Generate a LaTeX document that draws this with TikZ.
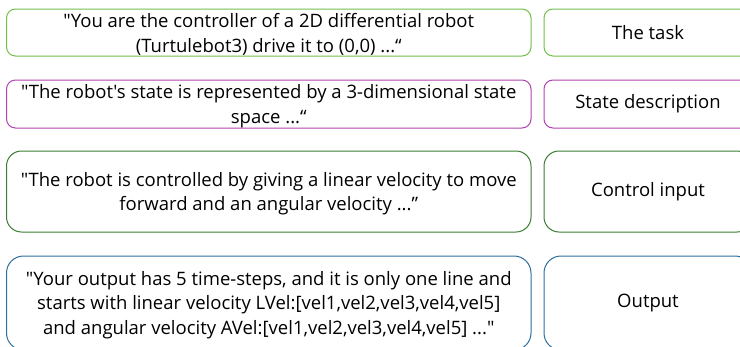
\documentclass[tikz,border=0pt]{standalone}
\usepackage{fontspec}
\newfontfamily\apf{Open Sans}
\definecolor{cA}{HTML}{72BF4C}
\definecolor{cB}{HTML}{B043AE}
\definecolor{cC}{HTML}{3B7D33}
\definecolor{cD}{HTML}{2E6E9C}
\tikzset{
  txt/.style={align=center, inner sep=0pt, font=\apf\fontsize{18.5}{24.5}\selectfont, text=black},
  box/.style={draw=#1, line width=1pt, rectangle, txt},
  lbox/.style={box=#1, minimum width=524.5pt},
  rbox/.style={box=#1, minimum width=208pt},
  ltext/.style={txt, yshift=-2pt},
}
\begin{document}
\begin{tikzpicture}[x=1pt,y=-1pt]
\useasboundingbox (0,0) rectangle (740,346);
\node[lbox=cA, minimum height=47pt, rounded corners=9pt] (t1) at (268.75,32.5) {};
\node[ltext] (t1x) at (t1.center)
  {"You are the controller of a 2D differential robot\\(Turtulebot3) drive it to (0,0) ...“};
\node[rbox=cA, minimum height=47pt, rounded corners=9pt] (r1) at (648,32.5) {The task};
\node[lbox=cB, minimum height=48pt, rounded corners=9pt] (t2) at (268.75,104) {};
\node[ltext] (t2x) at (t2.center)
  {"The robot's state is represented by a 3-dimensional state\\space ...“};
\node[rbox=cB, minimum height=48pt, rounded corners=9pt] (r2) at (648,104) {State description};
\node[lbox=cC, minimum height=81pt, rounded corners=15pt] (t3) at (268.75,191.5) {};
\node[ltext] (t3x) at (t3.center)
  {"The robot is controlled by giving a linear velocity to move\\forward and an angular velocity ...”};
\node[rbox=cC, minimum height=81pt, rounded corners=15pt] (r3) at (648,191.5) {Control input};
\node[lbox=cD, minimum height=94pt, rounded corners=17pt] (t4) at (268.75,303) {};
\node[ltext] (t4x) at (t4.center)
  {"Your output has 5 time-steps, and it is only one line and\\starts with linear velocity LVel:[vel1,vel2,vel3,vel4,vel5]\\and angular velocity AVel:[vel1,vel2,vel3,vel4,vel5] ..."};
\node[rbox=cD, minimum height=94pt, rounded corners=17pt] (r4) at (648,303) {Output};
\end{tikzpicture}
\end{document}
